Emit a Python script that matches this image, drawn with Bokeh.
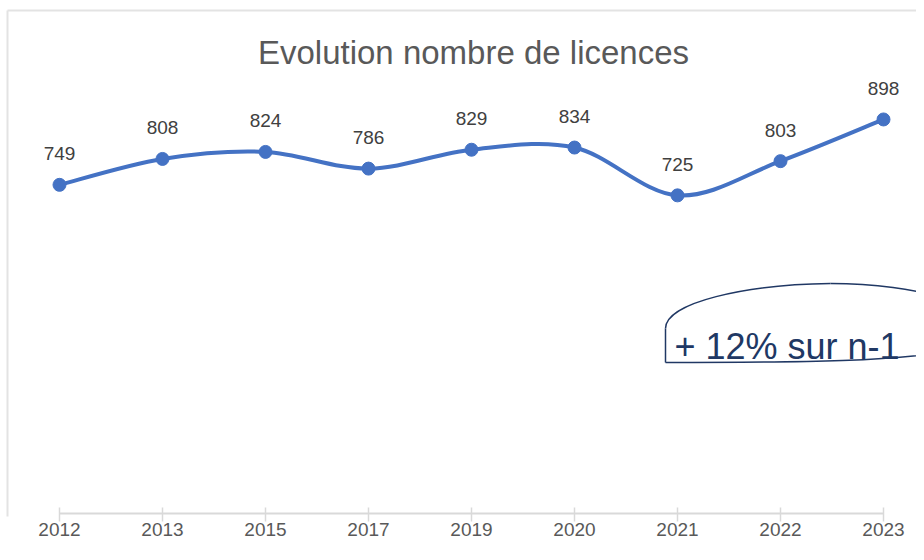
from bokeh.plotting import figure
from bokeh.models import Range1d, FixedTicker, ColumnDataSource, LabelSet, Label
from bokeh.embed import file_html
from bokeh.resources import INLINE
from bokeh.core.properties import value

# ---- data ----
years = ["2012", "2013", "2015", "2017", "2019", "2020", "2021", "2022", "2023"]
licences = [749, 808, 824, 786, 829, 834, 725, 803, 898]
title_text = "Evolution nombre de licences"
callout_text = "+ 12% sur n-1"

# ---- layout geometry (canvas pixels, origin top-left) ----
W, H = 916, 544
X0_PX, DX_PX = 59, 103        # centre of first category, category spacing
Y0_PX, YSCALE = 513, 0.4388   # canvas y of value 0, px per unit
FRAME_BOTTOM = 516            # canvas y of frame bottom

def px2x(px):
    return (px - X0_PX) / DX_PX

def px2y(py):
    return (Y0_PX - py) / YSCALE

xs = list(range(len(years)))

p = figure(width=W, height=H,
           x_range=Range1d(px2x(0), px2x(W)),
           y_range=Range1d(px2y(FRAME_BOTTOM), px2y(0)),
           y_axis_location=None, toolbar_location=None, output_backend="svg",
           min_border_left=0, min_border_right=0, min_border_top=0,
           min_border_bottom=H - FRAME_BOTTOM)
p.outline_line_color = None
p.background_fill_color = "white"
p.border_fill_color = "white"
p.xgrid.visible = False
p.ygrid.visible = False

# x axis
ax = p.xaxis[0]
ax.ticker = FixedTicker(ticks=xs)
ax.major_label_overrides = {i: y for i, y in zip(xs, years)}
ax.axis_line_color = None
ax.major_tick_line_color = "#d9d9d9"
ax.major_tick_line_width = 1.5
ax.major_tick_in = 9
ax.major_tick_out = 5
ax.minor_tick_line_color = None
ax.major_label_standoff = 1
ax.major_label_text_font = "Liberation Sans"
ax.major_label_text_font_size = "19px"
ax.major_label_text_color = "#595959"

# axis baseline between first and last category
p.segment(x0=xs[0], y0=0, x1=xs[-1], y1=0, line_color="#d9d9d9", line_width=2)

# chart border (left / top)
bc = "#e3e3e3"
p.segment(x0=[px2x(7), px2x(7)], y0=[px2y(10), px2y(10)],
          x1=[px2x(7), px2x(W + 5)], y1=[px2y(FRAME_BOTTOM + 5), px2y(10)],
          line_color=bc, line_width=2)

# smoothed line (Bezier segments built from the data points)
n = len(xs)
bx0, by0, bx1, by1, bcx0, bcy0, bcx1, bcy1 = [], [], [], [], [], [], [], []
for i in range(n - 1):
    ip, inx = max(i - 1, 0), min(i + 2, n - 1)
    bx0.append(xs[i]); by0.append(licences[i])
    bx1.append(xs[i + 1]); by1.append(licences[i + 1])
    bcx0.append(xs[i] + (xs[i + 1] - xs[ip]) / 6)
    bcy0.append(licences[i] + (licences[i + 1] - licences[ip]) / 6)
    bcx1.append(xs[i + 1] - (xs[inx] - xs[i]) / 6)
    bcy1.append(licences[i + 1] - (licences[inx] - licences[i]) / 6)
p.bezier(x0=bx0, y0=by0, x1=bx1, y1=by1, cx0=bcx0, cy0=bcy0, cx1=bcx1, cy1=bcy1,
         line_color="#4472C4", line_width=4, line_cap="round")

src = ColumnDataSource(dict(x=xs, y=licences, lab=[str(v) for v in licences]))
p.scatter("x", "y", source=src, size=13, fill_color="#4472C4", line_color="#4472C4")

p.add_layout(LabelSet(x="x", y="y", text="lab", source=src, y_offset=31,
                      text_align="center", text_baseline="middle",
                      text_font=value("Liberation Sans"), text_font_size="19px",
                      text_color="#404040"))

# title
p.add_layout(Label(x=px2x(473), y=px2y(52), text=title_text,
                   text_align="center", text_baseline="middle",
                   text_font="Liberation Sans", text_font_size="33px",
                   text_color="#595959"))

# callout shape
cc = "#203864"
p.segment(x0=px2x(665), y0=px2y(362), x1=px2x(665), y1=px2y(328), line_color=cc, line_width=1.5)
p.bezier(x0=[px2x(665), px2x(830)], y0=[px2y(328), px2y(283)],
         x1=[px2x(830), px2x(940)], y1=[px2y(283), px2y(297)],
         cx0=[px2x(665), px2x(875)], cy0=[px2y(302), px2y(283)],
         cx1=[px2x(745), px2x(915)], cy1=[px2y(284), px2y(289)],
         line_color=cc, line_width=1.5)
p.bezier(x0=[px2x(665)], y0=[px2y(362)], x1=[px2x(940)], y1=[px2y(352)],
         cx0=[px2x(820)], cy0=[px2y(362)], cx1=[px2x(890)], cy1=[px2y(360)],
         line_color=cc, line_width=1.5)
p.add_layout(Label(x=px2x(674), y=px2y(346), text=callout_text,
                   text_align="left", text_baseline="alphabetic",
                   text_font="Liberation Sans", text_font_size="36px",
                   text_color=cc))

open("out.html", "w").write(file_html(p, INLINE))
